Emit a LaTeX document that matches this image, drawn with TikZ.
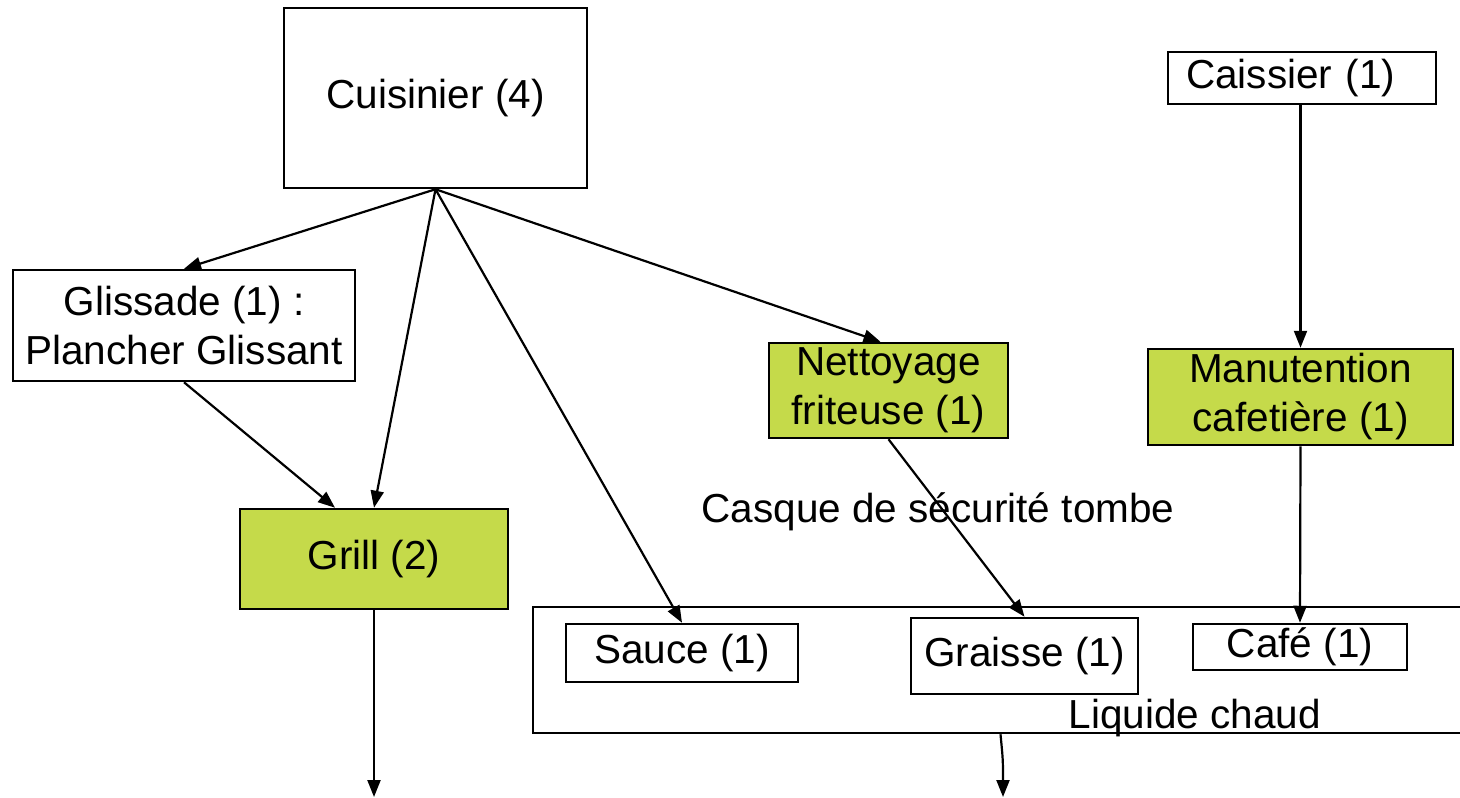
\documentclass[tikz,border=0pt]{standalone}
\usepackage{fontspec}
\setmainfont{Liberation Sans}
\usetikzlibrary{arrows.meta}
\definecolor{boxgreen}{HTML}{C5DA4A}
\tikzset{
  every picture/.style={x=1pt,y=-1pt},
  box/.style={draw=black, line width=2.5pt, inner sep=0pt, align=center,
    font=\fontsize{40.5}{49}\selectfont},
  gbox/.style={box, fill=boxgreen},
  lbl/.style={inner sep=0pt, font=\fontsize{40.5}{49}\selectfont},
  conn/.style={line width=2.2pt, -{Triangle[length=17pt,width=13pt]}}
}
\begin{document}
\begin{tikzpicture}
\useasboundingbox (0,0) rectangle (1460,798);
\clip (0,0) rectangle (1460,798);
\fill[white] (0,0) rectangle (1460,798);

% boxes
\node[box, minimum width=303pt, minimum height=180pt] (cui) at (435.5,98) {Cuisinier (4)};
\node[box, minimum width=268pt, minimum height=52pt, text width=232pt, align=left] (cai) at (1302,78) {Caissier (1)};
\node[box, minimum width=342pt, minimum height=111pt] (gli) at (184,325.5) {Glissade (1) :\\Plancher Glissant};
\node[gbox, minimum width=268pt, minimum height=100pt] (grill) at (374,559) {Grill (2)};
\node[gbox, minimum width=239pt, minimum height=95pt] (net) at (888.5,390.5) {Nettoyage\\friteuse (1)};
\node[gbox, minimum width=305pt, minimum height=96pt] (manu) at (1300.5,397) {Manutention\\cafetière (1)};
\node[box, minimum width=947pt, minimum height=126pt] (big) at (1006.5,670) {};
\node[box, minimum width=232pt, minimum height=58pt] (sauce) at (682,653) {Sauce (1)};
\node[box, minimum width=227pt, minimum height=76pt] (graisse) at (1024.5,656) {Graisse (1)};
\node[box, minimum width=214pt, minimum height=46pt] (cafe) at (1300,647) {Café (1)};

% labels
\node[lbl] (liq) at (1195,718) {Liquide chaud};
\node[lbl] (casque) at (938,512) {Casque de sécurité tombe};

% free ends
\coordinate (e1) at (374,797);
\coordinate (e2) at (1003,797);

% connectors
\draw[conn] (cui.south) -- (gli.north);
\draw[conn] (cui.south) -- (grill.north);
\draw[conn] (cui.south) -- (sauce.north);
\draw[conn] (cui.south) -- ([xshift=-8pt]net.north);
\draw[conn] (gli.south) -- ([xshift=-39pt]grill.north);
\draw[conn] (manu.north |- cai.south) -- (manu.north);
\draw[conn] (net.south) -- (graisse.north);
\draw[conn] (manu.south) -- (cafe.north);
\draw[conn] (grill.south) -- (e1);
\draw[conn] ([xshift=-6pt]big.south) .. controls (1003,760) .. (e2);
\end{tikzpicture}
\end{document}
